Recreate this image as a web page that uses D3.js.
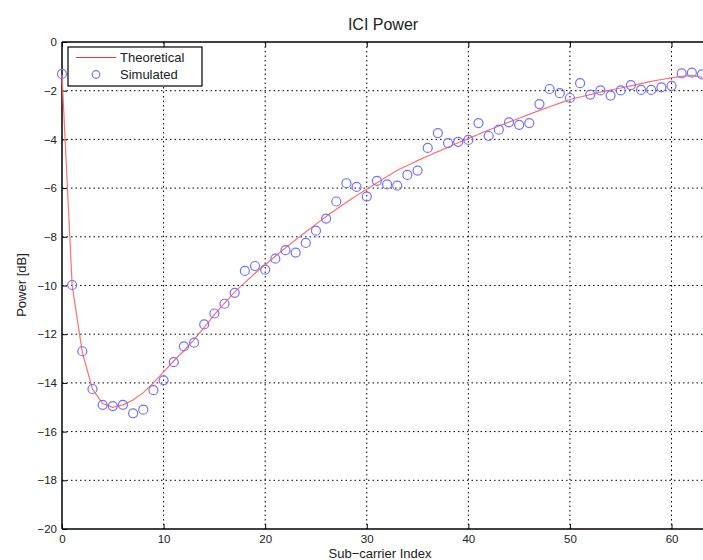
<!DOCTYPE html>
<html>
<head>
<meta charset="utf-8">
<script src="https://cdn.jsdelivr.net/npm/d3@7"></script>
<style>
body{margin:0;background:#fff;}
svg{display:block;font-family:"Liberation Sans",Arial,sans-serif;}
</style>
</head>
<body>
<svg id="chart" width="703" height="560"></svg>
<script>
const subcarriers = d3.range(0, 64);
const theoretical = [-1.35,-10.0,-12.75,-14.25,-14.85,-15.0,-14.9,-14.7,-14.4,-14.0,
  -13.55,-13.1,-12.68,-12.22,-11.72,-11.2,-10.72,-10.26,-9.88,-9.5,
  -9.15,-8.8,-8.45,-8.12,-7.8,-7.48,-7.17,-6.87,-6.58,-6.3,
  -6.05,-5.78,-5.52,-5.27,-5.07,-4.87,-4.68,-4.5,-4.32,-4.14,
  -3.97,-3.79,-3.62,-3.45,-3.29,-3.13,-2.97,-2.81,-2.66,-2.51,
  -2.36,-2.26,-2.16,-2.06,-1.97,-1.89,-1.8,-1.71,-1.62,-1.54,
  -1.47,-1.41,-1.37,-1.45];
const simulated = [-1.31,-9.98,-12.7,-14.25,-14.9,-14.95,-14.9,-15.25,-15.1,-14.3,
  -13.9,-13.15,-12.5,-12.35,-11.6,-11.15,-10.75,-10.3,-9.4,-9.2,
  -9.35,-8.9,-8.55,-8.65,-8.25,-7.75,-7.25,-6.55,-5.8,-5.95,
  -6.35,-5.7,-5.85,-5.9,-5.46,-5.28,-4.35,-3.74,-4.15,-4.1,
  -4.02,-3.33,-3.86,-3.6,-3.3,-3.4,-3.33,-2.55,-1.93,-2.1,
  -2.3,-1.69,-2.16,-1.99,-2.2,-1.99,-1.77,-1.97,-1.97,-1.86,
  -1.8,-1.29,-1.26,-1.33];
const xTicks = [0,10,20,30,40,50,60];
const yTicks = [0,-2,-4,-6,-8,-10,-12,-14,-16,-18,-20];

const svg = d3.select("#chart");
const L = 62, T = 42, B = 529, R = 702;
const x = d3.scaleLinear().domain([0,63]).range([L,R]);
const y = d3.scaleLinear().domain([-20,0]).range([B,T]);

// grid
const grid = svg.append("g");
grid.selectAll("line.vx").data(xTicks.filter(d=>d>0)).join("line")
  .attr("x1",d=>x(d)).attr("x2",d=>x(d)).attr("y1",T).attr("y2",B)
  .attr("stroke","#000").attr("stroke-width",1).attr("stroke-dasharray","1.5,3");
grid.selectAll("line.hy").data(yTicks.filter(d=>d>-20 && d<0)).join("line")
  .attr("x1",L).attr("x2",703).attr("y1",d=>y(d)).attr("y2",d=>y(d))
  .attr("stroke","#000").attr("stroke-width",1).attr("stroke-dasharray","1.5,3");

// axes
const xAxis = d3.axisBottom(x).tickValues(xTicks).tickSize(-5).tickPadding(6).tickFormat(d3.format("d"));
const gx = svg.append("g").attr("transform",`translate(0,${B})`).call(xAxis);
const xTop = d3.axisTop(x).tickValues(xTicks).tickSize(-5).tickFormat("");
const gxt = svg.append("g").attr("transform",`translate(0,${T})`).call(xTop);
const yAxis = d3.axisLeft(y).tickValues(yTicks).tickSize(-5).tickPadding(8)
  .tickFormat(d=> d===0 ? "0" : "\u2212"+Math.abs(d));
const gy = svg.append("g").attr("transform",`translate(${L},0)`).call(yAxis);
[gx,gxt,gy].forEach(g=>{
  g.select(".domain").attr("stroke","#000").attr("stroke-width",1.5);
  g.selectAll(".tick line").attr("stroke","#000").attr("stroke-width",1);
  g.selectAll(".tick text").attr("font-size",11.5).attr("fill","#222")
   .attr("font-family","Liberation Sans, Arial, sans-serif");
});
gx.select(".domain").attr("d",`M${L},0H703`);
gxt.select(".domain").attr("d",`M${L},0H703`);
gy.select(".domain").attr("d",`M0,${T}V${B}`);
gy.selectAll(".tick text").attr("dx",3);

// clip
svg.append("clipPath").attr("id","clip").append("rect")
  .attr("x",0).attr("y",0).attr("width",703).attr("height",B);

// theoretical line
const line = d3.line().x((d,i)=>x(subcarriers[i])).y(d=>y(d));
svg.append("path").datum(theoretical).attr("d",line)
  .attr("fill","none").attr("stroke","#ff7070").attr("stroke-width",1.2)
  .attr("clip-path","url(#clip)");

// simulated points
svg.append("g").selectAll("circle").data(simulated).join("circle")
  .attr("cx",(d,i)=>x(subcarriers[i])).attr("cy",d=>y(d)).attr("r",4.5)
  .attr("fill","none").attr("stroke","#7272ff").attr("stroke-width",1.2);

// legend
const lg = svg.append("g");
lg.append("rect").attr("x",68).attr("y",47).attr("width",134).attr("height",39)
  .attr("fill","#fff").attr("stroke","#000").attr("stroke-width",1.2);
lg.append("line").attr("x1",76).attr("x2",116).attr("y1",57.5).attr("y2",57.5)
  .attr("stroke","#ff3030").attr("stroke-width",1.2);
lg.append("text").attr("x",120).attr("y",62).text("Theoretical")
  .attr("font-size",13).attr("fill","#222");
lg.append("circle").attr("cx",96).attr("cy",74.5).attr("r",3.8)
  .attr("fill","none").attr("stroke","#7272ff").attr("stroke-width",1.2);
lg.append("text").attr("x",120).attr("y",79).text("Simulated")
  .attr("font-size",13).attr("fill","#222");

// titles
svg.append("text").attr("x",383).attr("y",30).attr("text-anchor","middle")
  .attr("font-size",16).attr("fill","#222").text("ICI Power");
svg.append("text").attr("x",380).attr("y",558).attr("text-anchor","middle")
  .attr("font-size",13).attr("fill","#222").text("Sub\u2212carrier Index");
svg.append("text").attr("transform","translate(26,285) rotate(-90)")
  .attr("text-anchor","middle").attr("font-size",13).attr("fill","#222").text("Power [dB]");
</script>
</body>
</html>
